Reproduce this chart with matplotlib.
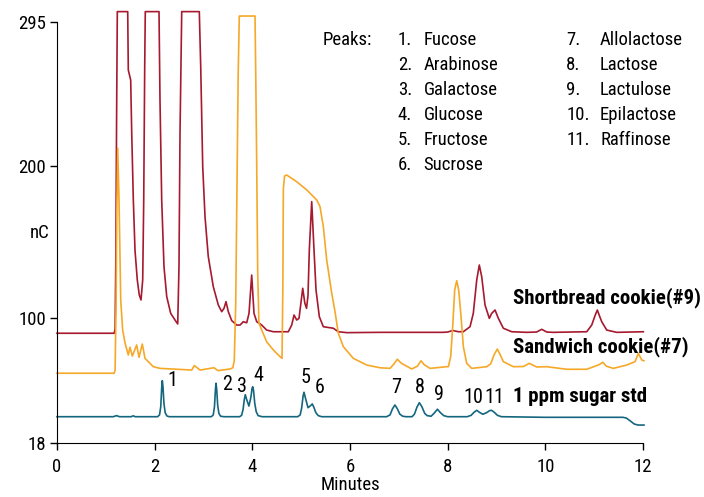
import matplotlib.pyplot as plt

plt.rcParams['font.family'] = ['Roboto Condensed', 'Liberation Sans Narrow', 'Liberation Sans', 'DejaVu Sans']

# Shortbread cookie (#9), minutes vs nC
shortbread_min = [0, 1.17, 1.19, 1.205, 1.22, 1.235, 1.448, 1.460, 1.509, 1.530, 1.563, 1.597,
                  1.644, 1.685, 1.720, 1.755, 1.776, 1.796, 1.808, 2.089, 2.109, 2.144, 2.191,
                  2.247, 2.328, 2.417, 2.472, 2.498, 2.519, 2.554, 2.914, 2.943, 2.984, 3.031,
                  3.098, 3.201, 3.303, 3.373, 3.420, 3.461, 3.508, 3.578, 3.680, 3.748, 3.815,
                  3.885, 3.932, 3.987, 4.034, 4.090, 4.192, 4.294, 4.430, 4.737, 4.806, 4.854,
                  4.909, 4.956, 5.032, 5.075, 5.110, 5.140, 5.167, 5.216, 5.263, 5.304, 5.372,
                  5.454, 5.658, 5.761, 5.933, 6.615, 7.900, 8.000, 8.104, 8.220, 8.320, 8.458,
                  8.525, 8.595, 8.648, 8.697, 8.765, 8.853, 8.902, 8.970, 9.038, 9.140, 9.312,
                  9.619, 9.820, 9.926, 10.030, 10.164, 10.848, 10.950, 11.020, 11.065, 11.110,
                  11.155, 11.257, 11.462, 12.007]
shortbread_nc = [90.2, 90.2, 93, 140, 230, 301.8, 301.8, 263.4, 256.8, 222, 177.9, 145.0,
                 125.3, 115.4, 112.1, 125.3, 177.9, 265.6, 301.8, 301.8, 243.7, 177.9, 134,
                 114.3, 103.3, 98.9, 96.3, 134, 221.8, 301.8, 301.8, 265.6, 199.8, 166.9,
                 140.6, 120.8, 108.8, 104.4, 106.6, 111.0, 104.4, 98.5, 95.6, 95.6, 97.8,
                 97.1, 103.3, 128.5, 103.3, 97.8, 95.6, 92.3, 91.2, 91.2, 95.6, 102.2,
                 98.9, 100.0, 119.8, 110, 106.6, 115, 145, 176.8, 145, 118.7, 101.1,
                 94.5, 93.5, 91.2, 90.6, 90.8, 90.8, 91.0, 92.0, 91.2, 91.2, 94.5,
                 103.3, 125.2, 135.1, 127.4, 108.8, 100.0, 103.3, 105.5, 100.0, 93.5, 91.2,
                 90.8, 91.0, 92.8, 91.0, 90.8, 91.2, 95.6, 102, 105.5, 101.5,
                 97.8, 92.3, 90.8, 91.2]

# Sandwich cookie (#7)
sandwich_min = [0, 1.17, 1.19, 1.21, 1.225, 1.243, 1.270, 1.305, 1.345, 1.393, 1.46, 1.495,
                1.542, 1.632, 1.679, 1.747, 1.802, 1.972, 2.109, 2.759, 2.812, 2.929, 3.215,
                3.297, 3.543, 3.60, 3.63, 3.66, 3.69, 3.71, 3.733, 4.055, 4.07, 4.09, 4.11,
                4.135, 4.192, 4.294, 4.43, 4.567, 4.608, 4.625, 4.635, 4.66, 4.704, 4.909,
                5.114, 5.318, 5.386, 5.454, 5.523, 5.626, 5.693, 5.761, 5.863, 6.068, 6.342,
                6.615, 6.82, 6.90, 6.969, 7.05, 7.264, 7.38, 7.454, 7.52, 7.639, 7.981,
                8.014, 8.062, 8.103, 8.144, 8.185, 8.226, 8.274, 8.321, 8.390, 8.493, 8.80,
                8.88, 8.95, 9.017, 9.07, 9.14, 9.345, 9.55, 9.672, 9.824, 10.029, 10.438,
                10.848, 11.10, 11.175, 11.25, 11.393, 11.667, 11.837, 11.905, 11.974, 12.02]
sandwich_nc = [63.9, 63.9, 66, 110, 170, 211.9, 177.9, 112, 92.3, 83.8, 75.9, 81.0,
               75.2, 82.5, 74.4, 83.1, 73.7, 68.2, 67.1, 66.0, 68.9, 66.0, 67.5,
               65.6, 66.7, 67.5, 72, 110, 200, 260, 298.9, 298.9, 260, 200, 130,
               97, 92.3, 84.6, 79.2, 74.8, 73.7, 120, 185, 193.7, 194.3, 189.9,
               184.5, 177.9, 173.5, 160.3, 138.4, 116.5, 104.4, 90.2, 81.4, 73.7, 69.3,
               67.5, 67.1, 70, 73.1, 70.5, 66.7, 68.5, 72.1, 69.5, 67.1, 68.2,
               68.2, 74.8, 94.5, 118.7, 124.8, 118.7, 101.1, 81.4, 70.4, 67.1, 68.2,
               70, 76, 79.8, 76.5, 71.5, 68.2, 68.3, 70.4, 68.0, 68.2, 66.5,
               66.5, 69.5, 71.1, 68.5, 67.1, 69.3, 71.5, 77.0, 72.6, 72.1]

# 1 ppm sugar standard
std_min = [0, 1.15, 1.22, 1.28, 1.52, 1.56, 1.60,
           2.06, 2.10, 2.125, 2.145, 2.157, 2.17, 2.19, 2.215, 2.25, 2.30,
           3.16, 3.20, 3.225, 3.245, 3.256, 3.27, 3.29, 3.315, 3.35, 3.42,
           3.74, 3.78, 3.81, 3.835, 3.856, 3.88, 3.93, 3.97, 3.995, 4.008, 4.025, 4.05,
           4.08, 4.12, 4.20,
           4.93, 4.98, 5.01, 5.04, 5.058, 5.08, 5.14, 5.19, 5.228, 5.26, 5.30, 5.35, 5.42,
           6.75, 6.82, 6.87, 6.92, 6.97, 7.02, 7.08, 7.15,
           7.27, 7.32, 7.37, 7.42, 7.47, 7.53, 7.58, 7.66, 7.72, 7.79, 7.85, 7.92, 8.00,
           8.40, 8.48, 8.54, 8.595, 8.65, 8.72, 8.80, 8.86, 8.90, 8.95, 9.02, 9.10,
           10.0, 11.59, 11.66, 11.74, 11.82, 11.90, 12.02]
std_nc = [35.3, 35.3, 36.0, 35.3, 35.3, 35.9, 35.3,
          35.3, 36.5, 42, 55, 59.0, 55, 44, 38, 35.8, 35.3,
          35.3, 36.5, 42, 53.5, 57.3, 53.5, 43, 37.5, 35.6, 35.3,
          35.3, 36.2, 40, 46.5, 49.8, 47, 42.3, 48, 54, 55.0, 52.5, 44,
          38.5, 36, 35.3,
          35.3, 36.5, 41, 49, 51.4, 48.5, 41.2, 42.5, 43.7, 41.5, 38, 36, 35.3,
          35.3, 36.5, 40.5, 43.0, 40.5, 37, 35.6, 35.3,
          35.3, 37, 41.5, 44.5, 42, 37.5, 36, 35.6, 37.5, 40.2, 38, 36, 35.3,
          35.3, 36.2, 38.2, 39.5, 38.2, 36.9, 38, 39.3, 39.5, 38.3, 36.2, 35.3,
          34.9, 34.9, 34.4, 32.5, 30.5, 29.8, 29.8]

# peak numbers on the standard trace
peak_ids = ['1', '2', '3', '4', '5', '6', '7', '8', '9', '10', '11']
peak_id_min = [2.36, 3.48, 3.79, 4.12, 5.08, 5.37, 6.94, 7.43, 7.83, 8.52, 8.95]
peak_id_nc = [58.8, 56.8, 55.5, 62.1, 60.8, 54.2, 54.2, 54.2, 50.2, 48.0, 48.0]

peak_names = ['Fucose', 'Arabinose', 'Galactose', 'Glucose', 'Fructose', 'Sucrose',
              'Allolactose', 'Lactose', 'Lactulose', 'Epilactose', 'Raffinose']

red = '#A6192E'
orange = '#F6A828'
teal = '#13667E'

fig = plt.figure(figsize=(7.04, 4.97), dpi=100)
ax = fig.add_axes([57 / 704, 54 / 497, 586 / 704, 433.2 / 497])

ax.plot(shortbread_min, shortbread_nc, color=red, lw=1.2, clip_on=False)
ax.plot(sandwich_min, sandwich_nc, color=orange, lw=1.2, clip_on=False)
ax.plot(std_min, std_nc, color=teal, lw=1.2, clip_on=False)

ax.set_xlim(0, 12)
ax.set_ylim(18, 303)
ax.set_xticks([0, 2, 4, 6, 8, 10, 12])
ax.set_yticks([18, 100, 200, 295])
for s in ['top', 'right']:
    ax.spines[s].set_visible(False)
ax.spines['left'].set_bounds(18, 295)
ax.tick_params(direction='out', length=5, width=1, labelsize=13.5)
ax.tick_params(axis='x', pad=6)
ax.tick_params(axis='y', pad=3)
ax.set_xlabel('Minutes', fontsize=13.5, labelpad=0)
ax.text(-0.35, 156, 'nC', fontsize=13.5, ha='center', va='center')

# trace names
ax.text(9.34, 113.4, 'Shortbread cookie(#9)', fontsize=15, fontweight='bold', va='center')
ax.text(9.34, 81.2, 'Sandwich cookie(#7)', fontsize=15, fontweight='bold', va='center')
ax.text(9.34, 48.9, '1 ppm sugar std', fontsize=15, fontweight='bold', va='center')

for pid, t, v in zip(peak_ids, peak_id_min, peak_id_nc):
    ax.text(t, v, pid, fontsize=14.5, ha='center', va='center')

# peak key
row_nc = 283.1
row_step = 16.4
ax.text(5.43, row_nc, 'Peaks:', fontsize=13.5, va='center')
for i, name in enumerate(peak_names):
    if i < 6:
        num_t, name_t, r = 6.98, 7.51, i
    else:
        num_t, name_t, r = 10.43, 11.12, i - 6
    y = row_nc - r * row_step
    ax.text(num_t, y, f'{i + 1}.', fontsize=13.5, va='center')
    ax.text(name_t, y, name, fontsize=13.5, va='center')

fig.savefig('out.png', dpi=100)
